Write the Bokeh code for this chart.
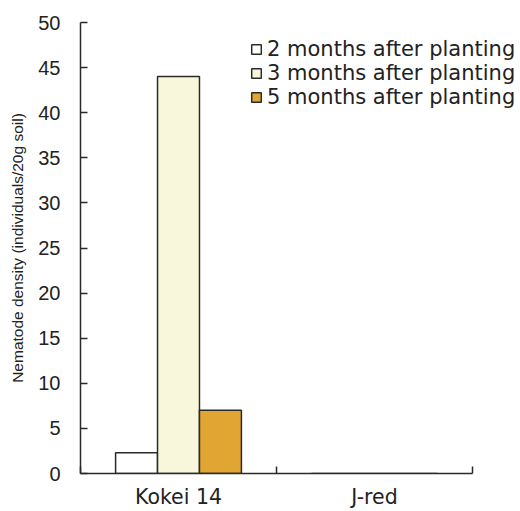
from bokeh.plotting import figure
from bokeh.models import (ColumnDataSource, Range1d, FixedTicker, Legend, LegendItem)
from bokeh.transform import dodge
from bokeh.embed import file_html
from bokeh.resources import INLINE

categories = ["Kokei 14", "J-red"]
months_2 = [2.3, 0.0]
months_3 = [44.0, 0.0]
months_5 = [7.0, 0.0]
series_labels = ["2 months after planting", "3 months after planting", "5 months after planting"]
y_ticks = [0, 5, 10, 15, 20, 25, 30, 35, 40, 45, 50]

n = len(categories)
xc = [i + 0.5 for i in range(n)]
src = ColumnDataSource(dict(x=xc, m2=months_2, m3=months_3, m5=months_5))

W, H = 520, 511
left, top, bottom = 80, 22, 38
frame_w = W - left
cat_px = 196.0
p = figure(width=W, height=H, output_backend="svg", toolbar_location=None,
           x_range=Range1d(0, frame_w / cat_px), y_range=Range1d(0, 50),
           min_border_left=left, min_border_right=0, min_border_top=top, min_border_bottom=bottom)
p.outline_line_color = None
p.grid.grid_line_color = None

bw = 0.214
axis_col = "#2b2a28"
fills = ["#ffffff", "#f8f7dc", "#e1a534"]
rs = []
for off, col, fc in zip([-bw, 0, bw], ["m2", "m3", "m5"], fills):
    r = p.vbar(x=dodge("x", off), top=col, width=bw, source=src,
               fill_color=fc, line_color=axis_col, line_width=1.5)
    rs.append(r)

# y axis
ya = p.yaxis[0]
ya.ticker = FixedTicker(ticks=y_ticks, minor_ticks=[])
ya.major_tick_in = 7
ya.major_tick_out = 0
ya.major_label_standoff = 20
ya.major_label_text_font = "Liberation Sans"
ya.major_label_text_font_size = "20px"
ya.major_label_text_color = "#222222"
ya.axis_line_color = axis_col
ya.axis_line_width = 1.5
ya.major_tick_line_color = axis_col
ya.major_tick_line_width = 1.5
ya.axis_label = "Nematode density (individuals/20g soil)"
ya.axis_label_text_font = "Liberation Sans"
ya.axis_label_text_font_size = "15.5px"
ya.axis_label_text_font_style = "normal"
ya.axis_label_text_color = "#222222"
ya.axis_label_standoff = 9

# x axis
xa = p.xaxis[0]
xa.bounds = (0, n)
xa.ticker = FixedTicker(ticks=xc, minor_ticks=[float(i) for i in range(n + 1)])
xa.major_label_overrides = {v: c for v, c in zip(xc, categories)}
xa.major_tick_line_color = None
xa.minor_tick_in = 7
xa.minor_tick_out = 0
xa.minor_tick_line_color = axis_col
xa.minor_tick_line_width = 1.5
xa.axis_line_color = axis_col
xa.axis_line_width = 1.5
xa.major_label_standoff = 5
xa.major_label_text_font = "DejaVu Sans"
xa.major_label_text_font_size = "20.5px"
xa.major_label_text_color = "#222222"

legend = Legend(items=[LegendItem(label=l, renderers=[r]) for l, r in zip(series_labels, rs)],
                location=(170, 364), padding=0, margin=0, spacing=-3,
                border_line_color=None, background_fill_alpha=0,
                glyph_width=12, glyph_height=12, label_standoff=5,
                label_text_font="DejaVu Sans", label_text_font_size="21px",
                label_text_color="#222222", label_height=22)
p.add_layout(legend)

open("out.html", "w").write(file_html(p, INLINE))
